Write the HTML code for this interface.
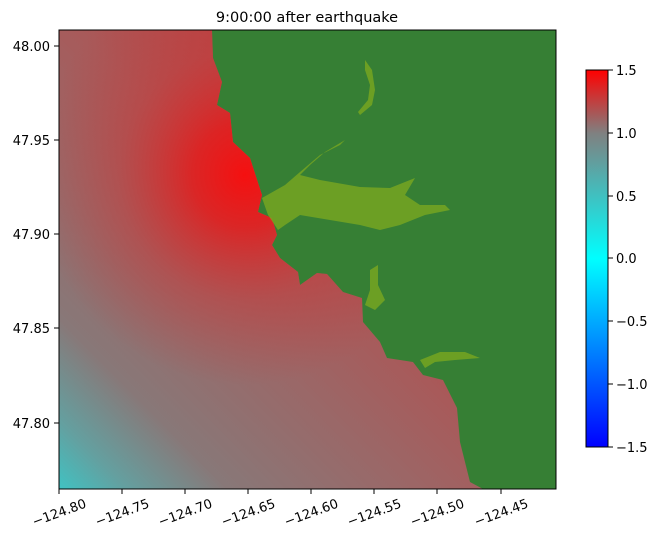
<!DOCTYPE html>
<html><head><meta charset="utf-8"><style>body{margin:0;background:#fff}svg{display:block}text{font-family:"DejaVu Sans","Liberation Sans",sans-serif;font-size:13px;fill:#000}</style></head><body>
<svg width="658" height="541" viewBox="0 0 658 541" xmlns="http://www.w3.org/2000/svg">
<defs>
<linearGradient id="lg" gradientUnits="userSpaceOnUse" x1="400" y1="150" x2="59" y2="489">
<stop offset="0" stop-color="#c03c3c"/><stop offset="0.3" stop-color="#a85a5a"/><stop offset="0.5" stop-color="#9a6868"/><stop offset="0.75" stop-color="#887878"/><stop offset="0.9" stop-color="#64a0a0"/><stop offset="1" stop-color="#40c2c2"/>
</linearGradient>
<radialGradient id="rg" gradientUnits="userSpaceOnUse" cx="245" cy="175" r="210">
<stop offset="0" stop-color="#f51010" stop-opacity="1"/><stop offset="0.25" stop-color="#e81818" stop-opacity="0.8"/><stop offset="0.6" stop-color="#c83838" stop-opacity="0.45"/><stop offset="1" stop-color="#c03c3c" stop-opacity="0"/>
</radialGradient>
<linearGradient id="cb" x1="0" y1="1" x2="0" y2="0">
<stop offset="0" stop-color="#0000ff"/><stop offset="0.5" stop-color="#00ffff"/><stop offset="0.667" stop-color="#40c0c0"/><stop offset="0.833" stop-color="#808080"/><stop offset="1" stop-color="#ff0000"/>
</linearGradient>
<clipPath id="ax"><rect x="59" y="30" width="497" height="459"/></clipPath>
</defs>
<text x="307" y="22" text-anchor="middle" style="font-size:14.5px">9:00:00 after earthquake</text>
<g clip-path="url(#ax)">
<rect x="59" y="30" width="497" height="459" fill="#367f34"/>
<path d="M59,30 L212,30 L213,58 L222,82 L217,105 L230,113 L233,142 L250,158 L262,195 L258,212 L272,218 L277,235 L272,245 L280,258 L298,272 L300,285 L317,273 L327,274 L343,292 L362,298 L363,322 L380,342 L387,358 L413,362 L423,375 L443,380 L457,408 L460,442 L470,482 L483,489 L59,489 Z" fill="url(#lg)"/>
<path d="M59,30 L212,30 L213,58 L222,82 L217,105 L230,113 L233,142 L250,158 L262,195 L258,212 L272,218 L277,235 L272,245 L280,258 L298,272 L300,285 L317,273 L327,274 L343,292 L362,298 L363,322 L380,342 L387,358 L413,362 L423,375 L443,380 L457,408 L460,442 L470,482 L483,489 L59,489 Z" fill="url(#rg)"/>
<g fill="#7aa820" opacity="0.8">
<path d="M262,198 L285,185 L300,172 L320,155 L340,145 L355,130 L360,125 L345,140 L325,152 L310,165 L300,175 L320,180 L360,187 L390,188 L410,180 L415,178 L405,195 L420,205 L445,205 L450,210 L425,215 L400,225 L380,230 L360,225 L330,220 L300,215 L285,225 L278,230 L268,215 Z"/>
<path d="M370,270 L378,265 L378,285 L385,300 L375,310 L365,305 L370,290 Z"/>
<path d="M420,360 L440,352 L465,352 L480,358 L455,360 L435,362 L425,368 Z"/>
<path d="M365,60 L372,70 L375,90 L372,105 L360,115 L358,112 L368,100 L370,85 L365,70 Z"/>
</g>
</g>
<rect x="59" y="30" width="497" height="459" fill="none" stroke="#000" stroke-width="1"/>
<g stroke="#000" stroke-width="1">
<line x1="59" y1="489" x2="59" y2="494"/><line x1="122" y1="489" x2="122" y2="494"/><line x1="185" y1="489" x2="185" y2="494"/><line x1="248" y1="489" x2="248" y2="494"/><line x1="311" y1="489" x2="311" y2="494"/><line x1="374" y1="489" x2="374" y2="494"/><line x1="437" y1="489" x2="437" y2="494"/><line x1="501" y1="489" x2="501" y2="494"/>
<line x1="54" y1="46" x2="59" y2="46"/><line x1="54" y1="140" x2="59" y2="140"/><line x1="54" y1="234" x2="59" y2="234"/><line x1="54" y1="328" x2="59" y2="328"/><line x1="54" y1="423" x2="59" y2="423"/>
</g>
<g text-anchor="middle">
<text transform="translate(59,512) rotate(-20)" dy="5">−124.80</text>
<text transform="translate(122,512) rotate(-20)" dy="5">−124.75</text>
<text transform="translate(185,512) rotate(-20)" dy="5">−124.70</text>
<text transform="translate(248,512) rotate(-20)" dy="5">−124.65</text>
<text transform="translate(311,512) rotate(-20)" dy="5">−124.60</text>
<text transform="translate(374,512) rotate(-20)" dy="5">−124.55</text>
<text transform="translate(437,512) rotate(-20)" dy="5">−124.50</text>
<text transform="translate(501,512) rotate(-20)" dy="5">−124.45</text>
</g>
<g text-anchor="end">
<text x="50" y="51">48.00</text><text x="50" y="145">47.95</text><text x="50" y="239">47.90</text><text x="50" y="333">47.85</text><text x="50" y="428">47.80</text>
</g>
<rect x="586" y="70" width="22" height="377" fill="url(#cb)" stroke="#000" stroke-width="1"/>
<g stroke="#000"><line x1="608" y1="70" x2="613" y2="70"/><line x1="608" y1="133" x2="613" y2="133"/><line x1="608" y1="196" x2="613" y2="196"/><line x1="608" y1="258" x2="613" y2="258"/><line x1="608" y1="321" x2="613" y2="321"/><line x1="608" y1="384" x2="613" y2="384"/><line x1="608" y1="447" x2="613" y2="447"/></g>
<g><text x="616" y="75">1.5</text><text x="616" y="138">1.0</text><text x="616" y="201">0.5</text><text x="616" y="263">0.0</text><text x="616" y="326">−0.5</text><text x="616" y="389">−1.0</text><text x="616" y="452">−1.5</text></g>
</svg>
</body></html>
